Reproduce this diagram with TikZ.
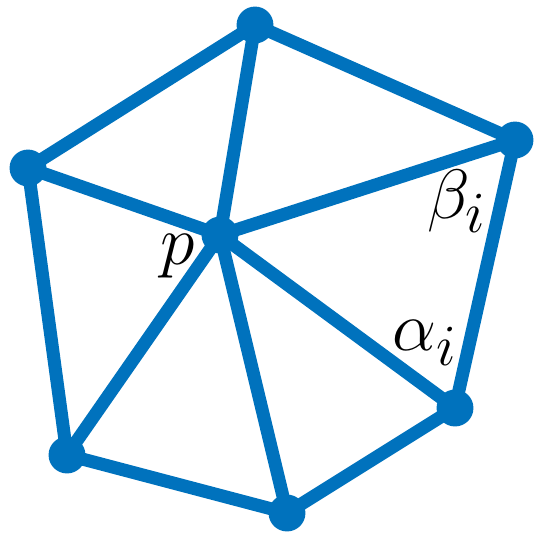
\documentclass[tikz,border=0pt]{standalone}
\begin{document}
\begin{tikzpicture}[x=0.02cm, y=-0.02cm]
        % Mesh style definitions
        \definecolor{meshblue}{RGB}{0,114,189}
        \tikzset{
            edge/.style={meshblue, line width=7.4pt, line cap=round},
            vertex/.style={circle, fill=meshblue, inner sep=0pt, minimum size=21pt},
            tag/.style={inner sep=0pt, font=\Huge, scale=1.6}
        }
        \useasboundingbox (0,0) rectangle (534,535);

        % ==========================================
        % VERTICES
        % ==========================================
        \coordinate (p) at (220,235);
        \coordinate (v1) at (255,25);
        \coordinate (v2) at (515,140);
        \coordinate (v3) at (455,408);
        \coordinate (v4) at (287,513);
        \coordinate (v5) at (67,455);
        \coordinate (v6) at (28,168);

        % Outer ring and spokes
        \draw[edge] (v1) -- (v2) -- (v3) -- (v4) -- (v5) -- (v6) -- cycle;
        \foreach \v in {v1,v2,v3,v4,v5,v6}
            \draw[edge] (p) -- (\v);

        % Dots
        \foreach \v in {p,v1,v2,v3,v4,v5,v6}
            \node[vertex] (d\v) at (\v) {};

        % Labels
        \node[tag] (lp) at (178,256) {$p$};
        \node[tag] (lb) at (457,201) {$\beta_i$};
        \node[tag] (la) at (425,343) {$\alpha_i$};
    \end{tikzpicture}
\end{document}
